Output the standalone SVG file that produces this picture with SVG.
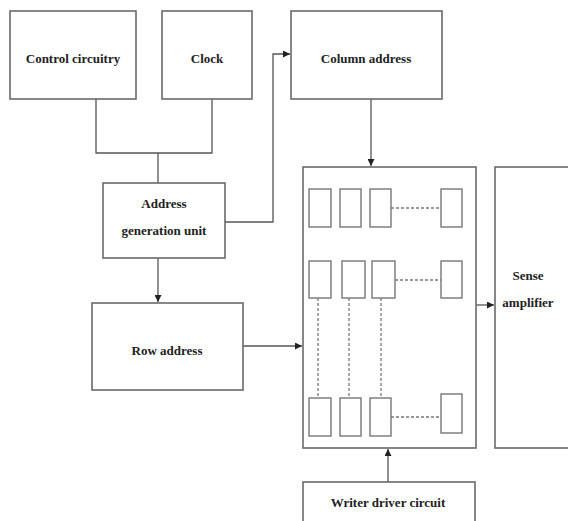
<svg xmlns="http://www.w3.org/2000/svg" width="568" height="521" viewBox="0 0 568 521">
<style>
.box{fill:#fff;stroke:#6a6a6a;stroke-width:1.6}
.cell{fill:#fff;stroke:#777;stroke-width:1.4}
.ln{fill:none;stroke:#555;stroke-width:1.3}
.dash{fill:none;stroke:#777;stroke-width:1.3;stroke-dasharray:3,2}
text{font-family:"Liberation Serif","Times New Roman",serif;font-size:13px;font-weight:bold;fill:#222;text-anchor:middle}
</style>
<defs>
<marker id="ah" viewBox="0 0 10 10" refX="10" refY="5" markerWidth="7" markerHeight="7" orient="auto" markerUnits="userSpaceOnUse">
<path d="M0,0 L10,5 L0,10 z" fill="#222"/>
</marker>
</defs>
<rect width="568" height="521" fill="#fff"/>
<g id="connectors">
<path class="ln" d="M96,99 V153 H212 V99"/>
<path class="ln" d="M158,153 V183"/>
<path class="ln" d="M225,222 H273 V54 H290" marker-end="url(#ah)"/>
<path class="ln" d="M371,99 V166" marker-end="url(#ah)"/>
<path class="ln" d="M158,258 V302" marker-end="url(#ah)"/>
<path class="ln" d="M243,346 H302" marker-end="url(#ah)"/>
<path class="ln" d="M476,305 H494" marker-end="url(#ah)"/>
<path class="ln" d="M388,482 V449" marker-end="url(#ah)"/>
</g>
<g id="control"><rect class="box" x="10" y="11" width="126" height="88"/><text x="73" y="63">Control circuitry</text></g>
<g id="clock"><rect class="box" x="162" y="11" width="90" height="88"/><text x="207" y="63">Clock</text></g>
<g id="column"><rect class="box" x="291" y="11" width="151" height="88"/><text x="366" y="63">Column address</text></g>
<g id="addrgen"><rect class="box" x="103" y="183" width="122" height="75"/><text x="164" y="208">Address</text><text x="164" y="235">generation unit</text></g>
<g id="row"><rect class="box" x="92" y="303" width="151" height="87"/><text x="167" y="355">Row address</text></g>
<g id="array">
<rect class="box" x="303" y="167" width="173" height="281"/>
<rect class="cell" x="309" y="189" width="22" height="38"/>
<rect class="cell" x="340" y="189" width="21" height="38"/>
<rect class="cell" x="370" y="189" width="21" height="38"/>
<rect class="cell" x="441" y="189" width="21" height="38"/>
<rect class="cell" x="309" y="261" width="22" height="37"/>
<rect class="cell" x="342" y="261" width="23" height="37"/>
<rect class="cell" x="372" y="261" width="23" height="37"/>
<rect class="cell" x="441" y="261" width="21" height="37"/>
<rect class="cell" x="309" y="398" width="22" height="38"/>
<rect class="cell" x="340" y="398" width="21" height="38"/>
<rect class="cell" x="370" y="398" width="21" height="38"/>
<rect class="cell" x="441" y="394" width="21" height="39"/>
<path class="dash" d="M391,208 H441 M395,280 H441 M391,417 H441 M318,298 V398 M349,298 V398 M381,298 V398"/>
</g>
<g id="sense"><rect class="box" x="495" y="167" width="80" height="281"/><text x="528" y="280">Sense</text><text x="528" y="307">amplifier</text></g>
<g id="writer"><rect class="box" x="303" y="482" width="172" height="50"/><text x="388" y="507">Writer driver circuit</text></g>
</svg>
